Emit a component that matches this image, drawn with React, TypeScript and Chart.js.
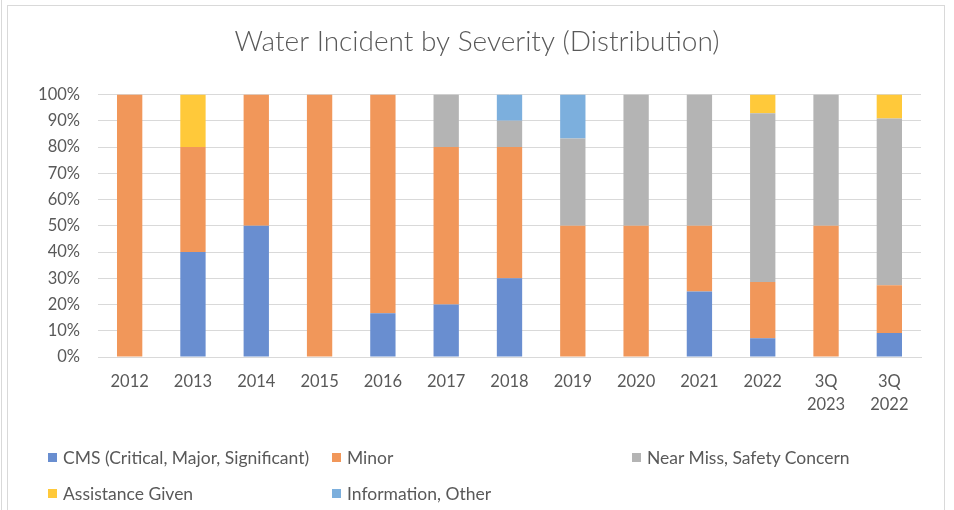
import React, { useEffect, useRef } from "react";
import { Chart, registerables } from "chart.js";

Chart.register(...registerables);

const categories: (string | string[])[] = ["2012", "2013", "2014", "2015", "2016", "2017", "2018", "2019", "2020", "2021", "2022", ["3Q", "2023"], ["3Q", "2022"]];
const cms = [0, 40, 50, 0, 16.7, 20, 30, 0, 0, 25, 7.1, 0, 9.1];
const minor = [100, 40, 50, 100, 83.3, 60, 50, 50, 50, 25, 21.5, 50, 18.2];
const nearMiss = [0, 0, 0, 0, 0, 20, 10, 33.3, 50, 50, 64.3, 50, 63.6];
const assistance = [0, 20, 0, 0, 0, 0, 0, 0, 0, 0, 7.1, 0, 9.1];
const information = [0, 0, 0, 0, 0, 0, 10, 16.7, 0, 0, 0, 0, 0];

const seriesNames = ["CMS (Critical, Major, Significant)", "Minor", "Near Miss, Safety Concern", "Assistance Given", "Information, Other"];
const seriesColors = ["#698ED0", "#F1975A", "#B4B4B4", "#FFC93A", "#7CAFDD"];

const FONT = "Lato, 'Open Sans', sans-serif";
const TEXT = "#595959";

export default function App() {
  const ref = useRef<HTMLCanvasElement | null>(null);

  useEffect(() => {
    if (!ref.current) return;
    const values = [cms, minor, nearMiss, assistance, information];
    const chart = new Chart(ref.current, {
      type: "bar",
      data: {
        labels: categories,
        datasets: values.map((v, i) => ({
          label: seriesNames[i],
          data: v,
          backgroundColor: seriesColors[i],
          borderWidth: 0,
          barPercentage: 0.4,
          categoryPercentage: 1,
        })),
      },
      options: {
        animation: false,
        responsive: false,
        maintainAspectRatio: false,
        layout: { padding: { left: 33, right: 33, top: 5, bottom: 93 } },
        plugins: {
          legend: { display: false },
          tooltip: { enabled: false },
          title: {
            display: true,
            text: "Water Incident by Severity (Distribution)",
            color: TEXT,
            font: { family: FONT, size: 28, weight: "300" as any, lineHeight: 1.2 },
            padding: { top: 20, bottom: 36 },
          },
        },
        scales: {
          x: {
            stacked: true,
            grid: { display: false, drawTicks: false },
            border: { display: true, color: "#D9D9D9", width: 1 },
            ticks: {
              color: TEXT,
              font: { family: FONT, size: 16.5, lineHeight: 1.35 },
              padding: 14,
              maxRotation: 0,
              autoSkip: false,
            },
            afterFit: (s: any) => { s.height = 60; },
          },
          y: {
            stacked: true,
            min: 0,
            max: 100,
            grid: { color: "#D9D9D9", lineWidth: 1, drawTicks: false },
            border: { display: false },
            ticks: {
              stepSize: 10,
              color: TEXT,
              font: { family: FONT, size: 16.5 },
              padding: 18,
              callback: (v: any) => v + "%",
            },
            afterFit: (s: any) => { s.width = 65; },
          },
        },
      },
    });
    return () => chart.destroy();
  }, []);

  const legendItems = [
    { i: 0, x: 48, y: 457 },
    { i: 1, x: 332, y: 457 },
    { i: 2, x: 632, y: 457 },
    { i: 3, x: 48, y: 493 },
    { i: 4, x: 332, y: 493 },
  ];

  return (
    <div style={{ position: "fixed", left: 0, top: 0, width: 954, height: 510, overflow: "hidden", background: "#fff" }}>
      <div style={{ position: "absolute", left: 1, top: 0, width: 1, height: 510, background: "#D9D9D9" }} />
      <div style={{ position: "absolute", left: 7, top: 5, width: 936, height: 600, border: "1.5px solid #D9D9D9" }} />
      <canvas ref={ref} width={954} height={510} style={{ position: "absolute", left: 0, top: 0, width: 954, height: 510 }} />
      {legendItems.map(({ i, x, y }) => (
        <div key={i} style={{ position: "absolute", left: x, top: y - 11, height: 22, display: "flex", alignItems: "center", fontFamily: FONT, fontSize: 17.5, color: TEXT, whiteSpace: "nowrap" }}>
          <span style={{ display: "inline-block", width: 9, height: 9, background: seriesColors[i], marginRight: 6 }} />
          <span>{seriesNames[i]}</span>
        </div>
      ))}
    </div>
  );
}
